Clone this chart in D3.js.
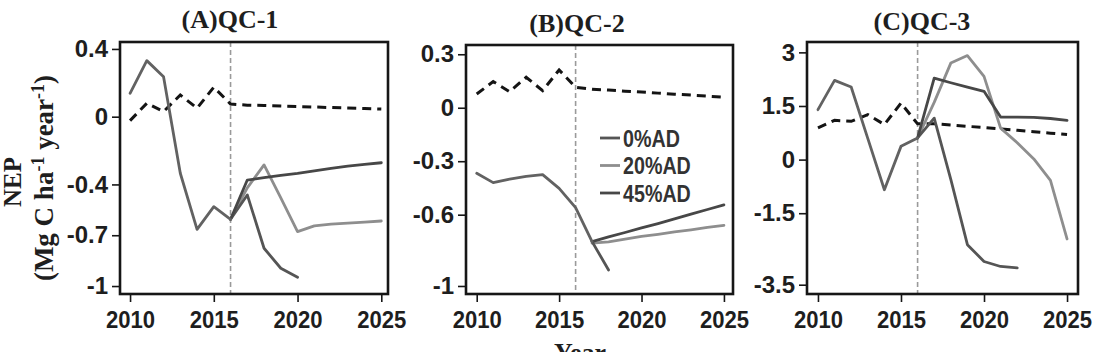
<!DOCTYPE html>
<html><head><meta charset="utf-8">
<script src="https://cdn.jsdelivr.net/npm/d3@7"></script>
<style>
html,body{margin:0;padding:0;background:#fff;}
svg{display:block;}
</style></head>
<body>
<svg id="chart" width="1098" height="352"></svg>
<script>
// ---------------- DATA ----------------
const years = d3.range(2010, 2026);
const seriesNames = ["0%AD", "20%AD", "45%AD"];

// Panel A (QC-1)
const aHistYears = [2010,2011,2012,2013,2014,2015,2016];
const aHist = [0.138, 0.331, 0.236, -0.334, -0.665, -0.531, -0.606];
const aYears0 = [2016,2017,2018,2019,2020];
const a0 = [-0.606, -0.462, -0.777, -0.895, -0.948];
const aYearsF = [2016,2017,2018,2019,2020,2021,2022,2023,2024,2025];
const a20 = [-0.606, -0.42, -0.285, -0.48, -0.679, -0.645, -0.635, -0.628, -0.622, -0.616];
const a45 = [-0.606, -0.374, -0.36, -0.347, -0.335, -0.32, -0.305, -0.292, -0.282, -0.272];
const aBase = [-0.023, 0.079, 0.030, 0.128, 0.05, 0.174, 0.075, 0.068, 0.066, 0.063, 0.060, 0.057, 0.054, 0.051, 0.048, 0.045];
const aTicks = [0.4, 0, -0.4, -0.7, -1];
const aTickLabels = ["0.4", "0", "-0.4", "-0.7", "-1"];

// Panel B (QC-2)
const bHistYears = [2010,2011,2012,2013,2014,2015,2016,2017];
const bHist = [-0.368, -0.42, -0.40, -0.385, -0.375, -0.452, -0.56, -0.751];
const bYears0 = [2017,2018];
const b0 = [-0.751, -0.91];
const bYearsF = [2017,2018,2019,2020,2021,2022,2023,2024,2025];
const b20 = [-0.76, -0.752, -0.737, -0.722, -0.71, -0.697, -0.685, -0.671, -0.66];
const b45 = [-0.751, -0.725, -0.70, -0.674, -0.65, -0.624, -0.597, -0.571, -0.545];
const bBase = [0.077, 0.147, 0.09, 0.171, 0.096, 0.212, 0.115, 0.104, 0.099, 0.093, 0.088, 0.082, 0.076, 0.071, 0.065, 0.059];
const bTicks = [0.3, 0, -0.3, -0.6, -1];
const bTickLabels = ["0.3", "0", "-0.3", "-0.6", "-1"];

// Panel C (QC-3)
const cHistYears = [2010,2011,2012,2013,2014,2015,2016];
const cHist = [1.397, 2.217, 2.03, 0.594, -0.842, 0.37, 0.605];
const cYears0 = [2016,2017,2018,2019,2020,2021,2022];
const c0 = [0.605, 1.16, -0.55, -2.38, -2.85, -2.99, -3.03];
const cYearsF = [2016,2017,2018,2019,2020,2021,2022,2023,2024,2025];
const c20 = [0.605, 1.6, 2.7, 2.91, 2.33, 0.88, 0.47, 0.02, -0.58, -2.22];
const c45 = [0.605, 2.28, 2.15, 2.03, 1.91, 1.19, 1.19, 1.18, 1.15, 1.10];
const cBase = [0.885, 1.1, 1.07, 1.26, 0.98, 1.58, 1.0, 1.0, 0.97, 0.93, 0.9, 0.86, 0.82, 0.78, 0.74, 0.70];
const cTicks = [3, 1.5, 0, -1.5, -3.5];
const cTickLabels = ["3", "1.5", "0", "-1.5", "-3.5"];

const xTicks = [2010, 2015, 2020, 2025];
const xTickLabels = ["2010", "2015", "2020", "2025"];
const titles = ["(A)QC-1", "(B)QC-2", "(C)QC-3"];
const disturbanceYear = 2016;

// ---------------- STYLE / LAYOUT ----------------
const col = {"0%AD": "#555555", "20%AD": "#8e8e8e", "45%AD": "#474747", hist: "#626262", base: "#141414", vline: "#9a9a9a", frame: "#161616", text: "#1e1e1e"};
const tickFont = "'Liberation Sans Narrow','Arial Narrow','Liberation Sans',Arial,sans-serif";
const serif = "'Liberation Serif','Times New Roman',serif";

function condense(sel, factor) {
  sel.each(function() {
    const L = this.getComputedTextLength();
    d3.select(this).attr("textLength", (L*factor).toFixed(1)).attr("lengthAdjust","spacingAndGlyphs");
  });
}

const panels = [
  {box:[120,388,42,294], xd:[2009.4,2025.4], yd:[-1.047,0.441], ticks:aTicks, tl:aTickLabels,
   hist:[aHistYears,aHist], s0:[aYears0,a0], s20:[aYearsF,a20], s45:[aYearsF,a45], base:aBase, title:titles[0], tx:230, ty:28},
  {box:[466,733,45,294], xd:[2009.35,2025.55], yd:[-1.045,0.352], ticks:bTicks, tl:bTickLabels,
   hist:[bHistYears,bHist], s0:[bYears0,b0], s20:[bYearsF,b20], s45:[bYearsF,b45], base:bBase, title:titles[1], tx:577, ty:32, legend:true},
  {box:[807,1078,42,294], xd:[2009.34,2025.66], yd:[-3.76,3.29], ticks:cTicks, tl:cTickLabels,
   hist:[cHistYears,cHist], s0:[cYears0,c0], s20:[cYearsF,c20], s45:[cYearsF,c45], base:cBase, title:titles[2], tx:922, ty:30}
];

const svg = d3.select("#chart");

panels.forEach(p => {
  const [x0,x1,y0,y1] = p.box;
  const x = d3.scaleLinear().domain(p.xd).range([x0,x1]);
  const y = d3.scaleLinear().domain(p.yd).range([y1,y0]);
  const g = svg.append("g");

  // x axis
  const xa = g.append("g").attr("transform",`translate(0,${y1})`)
    .call(d3.axisBottom(x).tickValues(xTicks).tickFormat((d,i)=>xTickLabels[i]).tickSize(8).tickPadding(9).tickSizeOuter(0));
  xa.select(".domain").remove();
  xa.selectAll("line").attr("stroke",col.frame).attr("stroke-width",1.6);
  xa.selectAll("text").attr("font-family",tickFont).attr("font-weight","bold").attr("font-size",24).attr("fill",col.text);
  condense(xa.selectAll("text"), 0.92);

  // y axis
  const ya = g.append("g").attr("transform",`translate(${x0},0)`)
    .call(d3.axisLeft(y).tickValues(p.ticks).tickFormat((d,i)=>p.tl[i]).tickSize(8).tickPadding(4).tickSizeOuter(0));
  ya.select(".domain").remove();
  ya.selectAll("line").attr("stroke",col.frame).attr("stroke-width",1.6);
  ya.selectAll("text").attr("font-family",tickFont).attr("font-weight","bold").attr("font-size",24).attr("fill",col.text);

  // clip
  const cid = "clip"+x0;
  svg.append("clipPath").attr("id",cid).append("rect").attr("x",x0).attr("y",y0).attr("width",x1-x0).attr("height",y1-y0);
  const pg = g.append("g").attr("clip-path",`url(#${cid})`);

  // vertical disturbance line
  pg.append("line").attr("x1",x(disturbanceYear)).attr("x2",x(disturbanceYear)).attr("y1",y0).attr("y2",y1)
    .attr("stroke",col.vline).attr("stroke-width",1.6).attr("stroke-dasharray","5,3");

  const line = d3.line().x(d=>x(d[0])).y(d=>y(d[1]));
  const zip = (xs,vs)=>xs.map((xx,i)=>[xx,vs[i]]);

  // baseline dashed
  pg.append("path").attr("d",line(zip(years,p.base))).attr("fill","none")
    .attr("stroke",col.base).attr("stroke-width",3).attr("stroke-dasharray","9,6");

  const draw = (arr,c)=>pg.append("path").attr("d",line(zip(arr[0],arr[1]))).attr("fill","none")
    .attr("stroke",c).attr("stroke-width",2.8).attr("stroke-linejoin","round").attr("stroke-linecap","round");
  draw(p.s20,col["20%AD"]);
  draw(p.s0,col["0%AD"]);
  draw(p.s45,col["45%AD"]);
  draw(p.hist,col.hist);

  // frame
  g.append("rect").attr("x",x0).attr("y",y0).attr("width",x1-x0).attr("height",y1-y0)
    .attr("fill","none").attr("stroke",col.frame).attr("stroke-width",2.6);

  // title
  svg.append("text").attr("x",p.tx).attr("y",p.ty).attr("text-anchor","middle")
    .attr("font-family",serif).attr("font-weight","bold").attr("font-size",26).attr("fill",col.text).text(p.title);

  if (p.legend) {
    const lg = g.append("g");
    seriesNames.forEach((n,i)=>{
      const yy = 138 + i*27.5;
      lg.append("line").attr("x1",600).attr("x2",620).attr("y1",yy).attr("y2",yy)
        .attr("stroke",col[n]).attr("stroke-width",2.8);
      const t = lg.append("text").attr("x",623).attr("y",yy+8.5).attr("font-family",tickFont).attr("font-weight","bold")
        .attr("font-size",24).attr("fill","#333").text(n);
      condense(t, 0.82);
    });
  }
});

// y-axis label
svg.append("text").attr("transform","translate(21,182) rotate(-90)").attr("text-anchor","middle")
  .attr("font-family",serif).attr("font-weight","bold").attr("font-size",25).attr("fill",col.text).text("NEP");
const yl = svg.append("text").attr("transform","translate(53,178) rotate(-90)").attr("text-anchor","middle")
  .attr("font-family",serif).attr("font-weight","bold").attr("font-size",27).attr("fill",col.text);
yl.append("tspan").text("(Mg C ha");
yl.append("tspan").attr("dy",-9).attr("font-size",18).text("-1");
yl.append("tspan").attr("dy",9).text(" year");
yl.append("tspan").attr("dy",-9).attr("font-size",18).text("-1");
yl.append("tspan").attr("dy",9).text(")");

// x-axis label
svg.append("text").attr("x",580).attr("y",361).attr("text-anchor","middle")
  .attr("font-family",serif).attr("font-weight","bold").attr("font-size",26).attr("fill",col.text).text("Year");
</script>
</body></html>
